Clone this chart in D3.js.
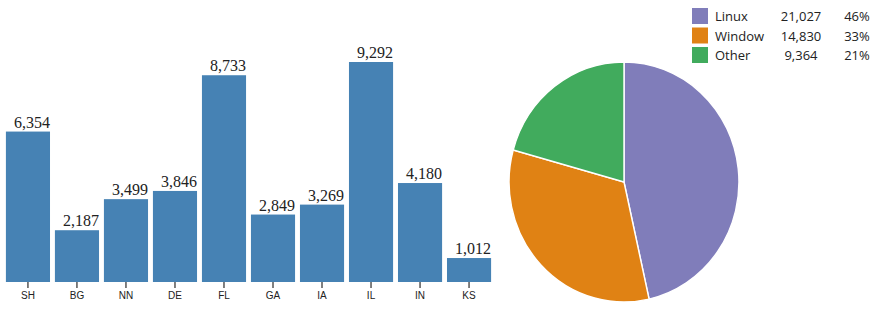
<!DOCTYPE html>
<html>
<head>
<meta charset="utf-8">
<script src="https://cdn.jsdelivr.net/npm/d3@7"></script>
<style>
  body { margin: 0; background: #fff; }
  svg { display: block; }
</style>
</head>
<body>
<svg id="chart" width="878" height="320"></svg>
<script>
// bar data
const states = ['SH', 'BG', 'NN', 'DE', 'FL', 'GA', 'IA', 'IL', 'IN', 'KS'];
const totals = [6354, 2187, 3499, 3846, 8733, 2849, 3269, 9292, 4180, 1012];

// pie data
const osNames = ['Linux', 'Window', 'Other'];
const osValues = [21027, 14830, 9364];
const osColors = ['#807dba', '#e08214', '#41ab5d'];

const svg = d3.select('#chart');
const fmt = d3.format(',');

// ---- histogram ----
const baseY = 282;
const x = d3.scaleBand().domain(states).range([1, 496]).padding(0.1);
const y = d3.scaleLinear().domain([0, d3.max(totals)]).range([baseY, 62]);

const bars = svg.append('g');
const barData = states.map((s, i) => ({ state: s, total: totals[i] }));

bars.selectAll('rect')
  .data(barData)
  .join('rect')
  .attr('x', (d) => x(d.state))
  .attr('y', (d) => y(d.total))
  .attr('width', x.bandwidth())
  .attr('height', (d) => baseY - y(d.total))
  .attr('fill', 'steelblue');

bars.selectAll('text.val')
  .data(barData)
  .join('text')
  .attr('class', 'val')
  .attr('x', (d) => x(d.state) + x.bandwidth())
  .attr('y', (d) => y(d.total) - 4)
  .attr('text-anchor', 'end')
  .style('font-family', '"Liberation Serif", "Times New Roman", serif')
  .style('font-size', '16px')
  .attr('fill', '#222')
  .text((d) => fmt(d.total));

const xAxis = svg.append('g')
  .attr('transform', `translate(0, ${baseY})`)
  .call(d3.axisBottom(x).tickSize(6).tickPadding(4));
xAxis.select('.domain').remove();
xAxis.selectAll('text')
  .style('font-family', '"Liberation Sans", Arial, sans-serif')
  .style('font-size', '10px')
  .attr('fill', '#222');

// ---- pie ----
const pieData = osNames.map((n, i) => ({ name: n, value: osValues[i], color: osColors[i] }));
const pie = d3.pie().value((d) => d.value);
const arc = d3.arc().innerRadius(0).outerRadius(120);

svg.append('g')
  .attr('transform', 'translate(624, 182) scale(0.958, 1)')
  .selectAll('path')
  .data(pie(pieData))
  .join('path')
  .attr('d', arc)
  .attr('fill', (d) => d.data.color)
  .attr('stroke', '#fff')
  .attr('stroke-width', 1.5);

// ---- legend ----
const sum = d3.sum(osValues);
const legend = svg.append('g')
  .style('font-family', '"Open Sans", sans-serif')
  .style('font-size', '13px')
  .attr('fill', '#222');

const rows = legend.selectAll('g')
  .data(pieData)
  .join('g')
  .attr('transform', (d, i) => `translate(0, ${8 + i * 19.5})`);

rows.append('rect')
  .attr('x', 692)
  .attr('width', 16)
  .attr('height', 16)
  .attr('fill', (d) => d.color);

rows.append('text')
  .attr('x', 715)
  .attr('y', 13)
  .text((d) => d.name);

rows.append('text')
  .attr('x', 801)
  .attr('y', 13)
  .attr('text-anchor', 'middle')
  .text((d) => fmt(d.value));

rows.append('text')
  .attr('x', 857)
  .attr('y', 13)
  .attr('text-anchor', 'middle')
  .text((d) => `${Math.round((d.value / sum) * 100)}%`);
</script>
</body>
</html>
